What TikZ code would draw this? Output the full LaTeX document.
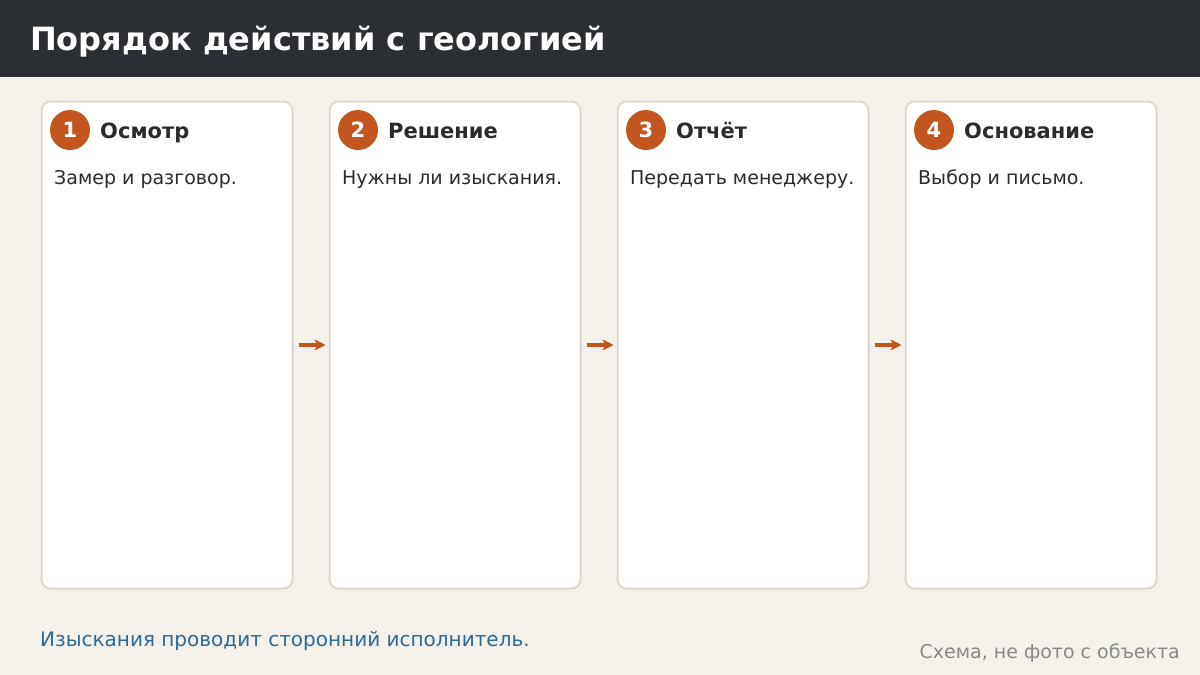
\documentclass[tikz,border=0pt]{standalone}
\usepackage{fontspec}
\usetikzlibrary{arrows.meta}
\setmainfont{DejaVu Sans}
\definecolor{headbg}{HTML}{2B2E33}
\definecolor{pagebg}{HTML}{F4F1EB}
\definecolor{cardline}{HTML}{DDD8CF}
\definecolor{accent}{HTML}{C2561E}
\definecolor{ink}{HTML}{2B2B2B}
\definecolor{noteblue}{HTML}{2E6A94}
\definecolor{notegray}{HTML}{8A8A8A}
\begin{document}
\begin{tikzpicture}[x=1pt,y=-1pt,>={Stealth[length=11pt,width=11pt,inset=3pt]},line join=round,
	card/.style={draw=cardline,line width=2pt,fill=white,rounded corners=9pt,
		minimum width=251pt,minimum height=487pt,inner sep=0pt},
	badge/.style={circle,fill=accent,text=white,inner sep=0pt,minimum size=40pt,
		font=\fontsize{21}{25}\selectfont\bfseries},
	cardtitle/.style={anchor=base west,inner sep=0pt,text=ink,font=\fontsize{21}{25}\selectfont\bfseries},
	cardtext/.style={anchor=base west,inner sep=0pt,text=ink,font=\fontsize{19}{23}\selectfont},
	flow/.style={->,draw=accent,line width=3.2pt,shorten <=5pt,shorten >=3pt}]
	\fill[pagebg] (0,0) rectangle (1200,675);
	\fill[headbg] (0,0) rectangle (1200,77);
	\node[anchor=base west,inner sep=0pt,text=white,font=\fontsize{32}{38}\selectfont\bfseries]
		(title) at (30,50) {Порядок действий с геологией};
	\foreach \i/\x/\t/\b in {1/41/Осмотр/Замер и разговор.,
		2/329/Решение/Нужны ли изыскания.,
		3/617/Отчёт/Передать менеджеру.,
		4/905/Основание/Выбор и письмо.}
	{
		\node[card] (card\i) at (\x+126,345) {};
		\node[badge] (num\i) at (\x+29,130) {\i};
		\node[cardtitle] (head\i) at (\x+59,138) {\t};
		\node[cardtext] (text\i) at (\x+13,184) {\b};
	}
	\foreach \a/\b in {1/2,2/3,3/4}
	\draw[flow] (card\a) -- (card\b);
	\node[anchor=base west,inner sep=0pt,text=noteblue,font=\fontsize{20}{24}\selectfont]
		(note) at (40,646) {Изыскания проводит сторонний исполнитель.};
	\node[anchor=base east,inner sep=0pt,text=notegray,font=\fontsize{19}{23}\selectfont]
		(stamp) at (1180,658) {Схема, не фото с объекта};
\end{tikzpicture}
\end{document}
